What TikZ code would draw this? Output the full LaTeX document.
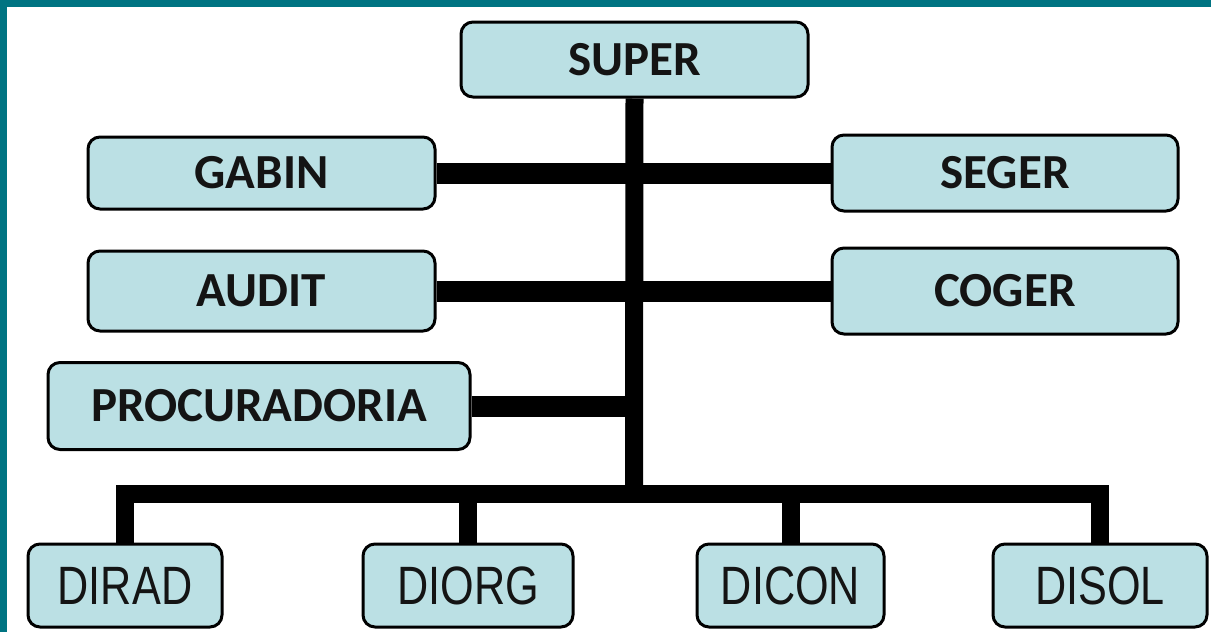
\documentclass[tikz,border=0pt]{standalone}
\usepackage{fontspec}
\setmainfont{Carlito}
\newfontfamily\arialfont{Liberation Sans}
\definecolor{frameteal}{HTML}{007482}
\definecolor{boxfill}{HTML}{BBE0E4}
\definecolor{boxtext}{HTML}{141414}
\begin{document}
\begin{tikzpicture}[x=0.5pt,y=-0.5pt,
  unit/.style={draw=black,line width=1.5pt,rounded corners=6pt,fill=boxfill,
    inner sep=0pt,text=boxtext,anchor=center},
  topunit/.style={unit,font=\fontsize{24.5}{28}\selectfont\bfseries},
  lowunit/.style={unit,font=\arialfont\fontsize{27}{30}\selectfont},
  bar/.style={line width=9pt,line join=miter},
  rowbar/.style={line width=10.5pt}]
\useasboundingbox (0,0) rectangle (1211,632);
\fill[white] (0,0) rectangle (1211,632);
% frame strips
\fill[frameteal] (0,0) rectangle (1211,7);
\fill[frameteal] (0,0) rectangle (7,632);

% staff units
\node[topunit,minimum width=173.5pt,minimum height=37.5pt] (super) at (634.5,59.5) {SUPER};
\node[topunit,minimum width=173.5pt,minimum height=36pt] (gabin) at (261.5,173) {GABIN};
\node[topunit,minimum width=173pt,minimum height=38pt] (seger) at (1005,173) {SEGER};
\node[topunit,minimum width=173.5pt,minimum height=40pt] (audit) at (261.5,291) {AUDIT};
\node[topunit,minimum width=173pt,minimum height=43pt] (coger) at (1005,291) {COGER};
\node[topunit,minimum width=211pt,minimum height=43.5pt] (procur) at (259,406) {PROCURADORIA};

% directorates
\node[lowunit,minimum width=97pt,minimum height=41.5pt] (dirad) at (125,585.5) {\scalebox{0.8}[1]{DIRAD}};
\node[lowunit,minimum width=105pt,minimum height=41.5pt] (diorg) at (468,585.5) {\scalebox{0.8}[1]{DIORG}};
\node[lowunit,minimum width=93.5pt,minimum height=41.5pt] (dicon) at (790.5,585.5) {\scalebox{0.8}[1]{DICON}};
\node[lowunit,minimum width=107pt,minimum height=41.5pt] (disol) at (1100,585.5) {\scalebox{0.8}[1]{DISOL}};

% connectors
\coordinate (bus) at (634,494);
\coordinate (procjoin) at (634,406);
\draw[bar] (super.south) -- (bus);
\draw[rowbar] (gabin.east) -- (seger.west);
\draw[rowbar] (audit.east) -- (coger.west);
\draw[rowbar] (procur.east) -- (procjoin);
\draw[bar] (dirad.north) -- (dirad.north |- bus) -- (disol.north |- bus) -- (disol.north);
\draw[bar] (diorg.north) -- (diorg.north |- bus);
\draw[bar] (dicon.north) -- (dicon.north |- bus);
\end{tikzpicture}
\end{document}
